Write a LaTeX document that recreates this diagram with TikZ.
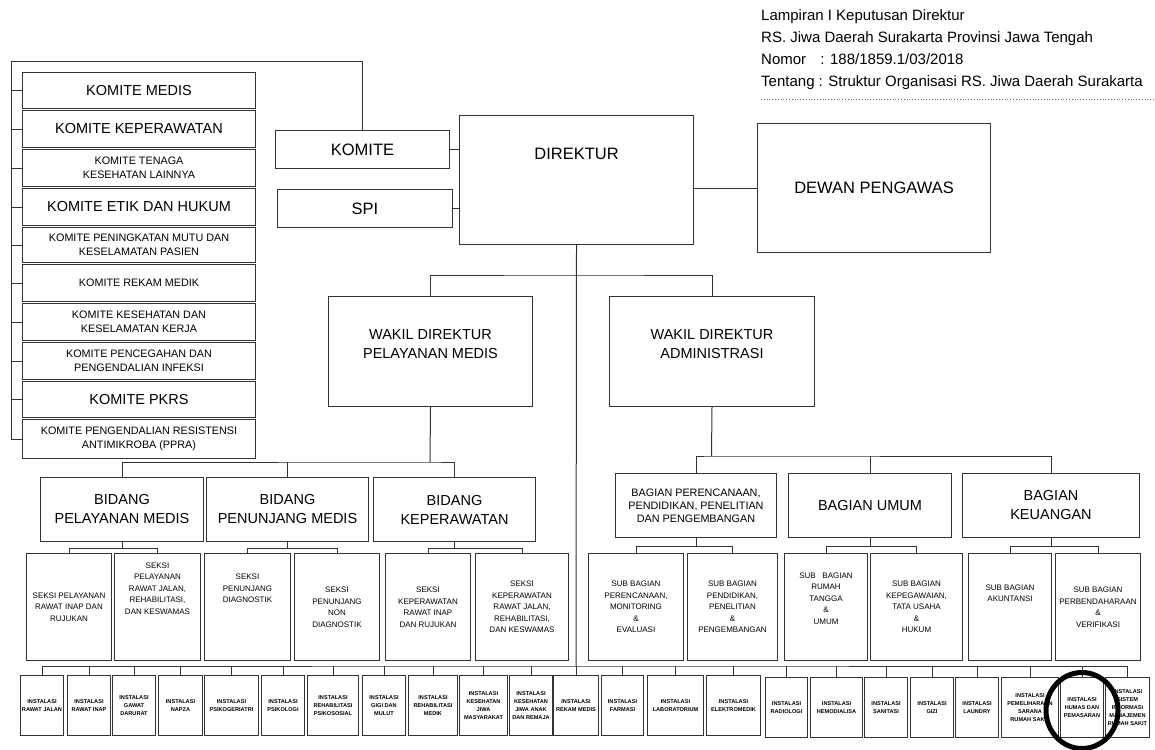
\documentclass[tikz,border=0pt]{standalone}
\usepackage{fontspec}
\setmainfont{Liberation Sans}

\begin{document}
\begin{tikzpicture}[
    x=1pt, y=-1pt,
    box/.style={rectangle, draw=black!80, line width=1pt, anchor=north west, align=center, inner sep=1pt},
    komitebig/.style={box, minimum width=233, font=\fontsize{14.5}{17}\selectfont},
    komitesmall/.style={box, minimum width=233, font=\fontsize{10.8}{14}\selectfont},
    headbox/.style={box, font=\fontsize{16.5}{20}\selectfont},
    unitbox/.style={box, minimum height=64, font=\fontsize{14.5}{19}\selectfont},
    seksibox/.style={box, minimum height=107, font=\fontsize{8}{11.5}\selectfont},
    instbox/.style={box, minimum height=60, inner sep=0.5pt, font=\fontsize{5.6}{8}\selectfont\bfseries},
    link/.style={draw=black!80, line width=1pt}
]

\useasboundingbox (0,0) rectangle (1155,749);

% Header text (top right)
\node[anchor=north west, align=left, inner sep=0pt, font=\fontsize{15}{22}\selectfont] (lampiran) at (761,9) {
    Lampiran I Keputusan Direktur\\
    RS. Jiwa Daerah Surakarta Provinsi Jawa Tengah\\
    \makebox[3.67em][l]{Nomor} : 188/1859.1/03/2018\\
    Tentang : Struktur Organisasi RS. Jiwa Daerah Surakarta
};
\draw[dotted, black!55, line width=0.8pt] ([yshift=-10pt]lampiran.south west) -- ++(394,0);

% Komite list (left column)
\node[komitebig, minimum height=36] (kmedis) at (22,72) {KOMITE MEDIS};
\node[komitebig, minimum height=37] (kkep) at (22,110) {KOMITE KEPERAWATAN};
\node[komitesmall, minimum height=37] (ktenaga) at (22,149) {KOMITE TENAGA\\KESEHATAN LAINNYA};
\node[komitebig, minimum height=37] (ketik) at (22,188) {KOMITE ETIK DAN HUKUM};
\node[komitesmall, minimum height=35] (kmutu) at (22,227) {KOMITE PENINGKATAN MUTU DAN\\KESELAMATAN PASIEN};
\node[komitesmall, minimum height=37] (krekam) at (22,264) {KOMITE REKAM MEDIK};
\node[komitesmall, minimum height=37] (kk3) at (22,303) {KOMITE KESEHATAN DAN\\KESELAMATAN KERJA};
\node[komitesmall, minimum height=37] (kppi) at (22,342) {KOMITE PENCEGAHAN DAN\\PENGENDALIAN INFEKSI};
\node[komitebig, minimum height=36] (kpkrs) at (22,381) {KOMITE PKRS};
\node[komitesmall, minimum height=39] (kppra) at (22,419) {KOMITE PENGENDALIAN RESISTENSI\\ANTIMIKROBA (PPRA)};

% Direktur level
\node[headbox, minimum width=174, minimum height=38] (komite) at (275,130) {KOMITE};
\node[headbox, minimum width=175, minimum height=38] (spi) at (277,189) {SPI};
\node[headbox, minimum width=234, minimum height=129] (direktur) at (459,115) {DIREKTUR\\[32pt]\mbox{}};
\node[headbox, minimum width=233, minimum height=129] (dewan) at (757,123) {DEWAN PENGAWAS};

% Wakil direktur
\node[unitbox, minimum width=204, minimum height=110] (wpm) at (328,296) {WAKIL DIREKTUR\\PELAYANAN MEDIS\\[-5pt]\mbox{}};
\node[unitbox, minimum width=205, minimum height=110] (wadm) at (609,296) {WAKIL DIREKTUR\\ADMINISTRASI\\[-5pt]\mbox{}};

% Bidang (left) and Bagian (right)
\node[unitbox, minimum width=163] (bpm) at (40,477) {BIDANG\\PELAYANAN MEDIS};
\node[unitbox, minimum width=162] (bpen) at (206,477) {BIDANG\\PENUNJANG MEDIS};
\node[unitbox, minimum width=162] (bkep) at (373,477) {BIDANG\\KEPERAWATAN};
\node[unitbox, minimum width=161, font=\fontsize{10.8}{13}\selectfont] (bper) at (615,473) {BAGIAN PERENCANAAN,\\PENDIDIKAN, PENELITIAN\\DAN PENGEMBANGAN};
\node[unitbox, minimum width=163] (bumum) at (788,473) {BAGIAN UMUM};
\node[unitbox, minimum width=177] (bkeu) at (962,473) {BAGIAN\\KEUANGAN};

% Seksi
\node[seksibox, minimum width=85] (s1) at (26,553) {SEKSI PELAYANAN\\RAWAT INAP DAN\\RUJUKAN};
\node[seksibox, minimum width=86] (s2) at (114,553) {SEKSI\\PELAYANAN\\RAWAT JALAN,\\REHABILITASI,\\DAN KESWAMAS\\[26pt]\mbox{}};
\node[seksibox, minimum width=86] (s3) at (204,553) {SEKSI\\PENUNJANG\\DIAGNOSTIK\\[26pt]\mbox{}};
\node[seksibox, minimum width=85] (s4) at (294,553) {SEKSI\\PENUNJANG\\NON\\DIAGNOSTIK};
\node[seksibox, minimum width=85] (s5) at (385,553) {SEKSI\\KEPERAWATAN\\RAWAT INAP\\DAN RUJUKAN};
\node[seksibox, minimum width=93] (s6) at (475,553) {SEKSI\\KEPERAWATAN\\RAWAT JALAN,\\REHABILITASI,\\DAN KESWAMAS};

% Sub bagian
\node[seksibox, minimum width=95] (sb1) at (588,553) {SUB BAGIAN\\PERENCANAAN,\\MONITORING\\\&\\EVALUASI};
\node[seksibox, minimum width=90] (sb2) at (687,553) {SUB BAGIAN\\PENDIDIKAN,\\PENELITIAN\\\&\\PENGEMBANGAN};
\node[seksibox, minimum width=83] (sb3) at (784,553) {SUB\ \ \ BAGIAN\\RUMAH\\TANGGA\\\&\\UMUM\\[6pt]\mbox{}};
\node[seksibox, minimum width=92] (sb4) at (870,553) {SUB BAGIAN\\KEPEGAWAIAN,\\TATA USAHA\\\&\\HUKUM};
\node[seksibox, minimum width=83] (sb5) at (968,553) {SUB BAGIAN\\AKUNTANSI\\[16pt]\mbox{}};
\node[seksibox, minimum width=85] (sb6) at (1055,553) {SUB BAGIAN\\PERBENDAHARAAN\\\&\\VERIFIKASI};

% Instalasi (bottom row)
\node[instbox, minimum width=43] (i1) at (20,675) {INSTALASI\\RAWAT JALAN};
\node[instbox, minimum width=43] (i2) at (67,675) {INSTALASI\\RAWAT INAP};
\node[instbox, minimum width=43] (i3) at (112,675) {INSTALASI\\GAWAT\\DARURAT};
\node[instbox, minimum width=44] (i4) at (158,675) {INSTALASI\\NAPZA};
\node[instbox, minimum width=54] (i5) at (204,675) {INSTALASI\\PSIKOGERIATRI};
\node[instbox, minimum width=43] (i6) at (261,675) {INSTALASI\\PSIKOLOGI};
\node[instbox, minimum width=51] (i7) at (307,675) {INSTALASI\\REHABILITASI\\PSIKOSOSIAL};
\node[instbox, minimum width=43] (i8) at (362,675) {INSTALASI\\GIGI DAN\\MULUT};
\node[instbox, minimum width=49] (i9) at (408,675) {INSTALASI\\REHABILITASI\\MEDIK};
\node[instbox, minimum width=48] (i10) at (459,675) {INSTALASI\\KESEHATAN\\JIWA\\MASYARAKAT};
\node[instbox, minimum width=43] (i11) at (509,675) {INSTALASI\\KESEHATAN\\JIWA ANAK\\DAN REMAJA};
\node[instbox, minimum width=45] (i12) at (553,675) {INSTALASI\\REKAM MEDIS};
\node[instbox, minimum width=42] (i13) at (601,675) {INSTALASI\\FARMASI};
\node[instbox, minimum width=56] (i14) at (647,675) {INSTALASI\\LABORATORIUM};
\node[instbox, minimum width=54] (i15) at (706,675) {INSTALASI\\ELEKTROMEDIK};
\node[instbox, minimum width=42] (i16) at (765,677) {INSTALASI\\RADIOLOGI};
\node[instbox, minimum width=52] (i17) at (810,677) {INSTALASI\\HEMODIALISA};
\node[instbox, minimum width=43] (i18) at (864,677) {INSTALASI\\SANITASI};
\node[instbox, minimum width=43] (i19) at (910,677) {INSTALASI\\GIZI};
\node[instbox, minimum width=43] (i20) at (955,677) {INSTALASI\\LAUNDRY};
\node[instbox, minimum width=57] (i21) at (1001,677) {INSTALASI\\PEMELIHARAAN\\SARANA\\RUMAH SAKIT};
\node[instbox, minimum width=43] (i22) at (1060,677) {INSTALASI\\HUMAS DAN\\PEMASARAN};
\node[instbox, minimum width=44] (i23) at (1105,677) {INSTALASI\\SISTEM\\INFORMASI\\MANAJEMEN\\RUMAH SAKIT};

% Bus points
\coordinate (kcorner) at (11,62);
\coordinate (wakilbus) at (576,275);
\coordinate (bidangbus) at (430,462);
\coordinate (bagianbus) at (711.5,456);
\coordinate (instbus) at (576,666);

% Connections: komite bracket
\draw[link] (komite.north) |- (kcorner) |- (kppra.west);
\foreach \k in {kmedis, kkep, ktenaga, ketik, kmutu, krekam, kk3, kppi, kpkrs}
    \draw[link] (kcorner |- \k.west) -- (\k.west);

% Connections: direktur
\draw[link] (komite.east) -- (komite.east -| direktur.west);
\draw[link] (spi.east) -- (spi.east -| direktur.west);
\draw[link] (dewan.west) -- (dewan.west -| direktur.east);
\draw[link] (direktur.south) -- (instbus);
\draw[link] (wpm.north) |- (wakilbus) -| (wadm.north);

% Connections: bidang / bagian
\draw[link] (wpm.south) -- (bidangbus);
\draw[link] (bpm.north) |- (bidangbus) -| (bkep.north);
\draw[link] (bpen.north) -- (bpen.north |- bidangbus);
\draw[link] (wadm.south) -- (bagianbus);
\draw[link] (bper.north) |- (bagianbus) -| (bkeu.north);
\draw[link] (bumum.north) -- (bumum.north |- bagianbus);

% Connections: seksi / sub bagian
\draw[link] (bpm.south) -- ++(0,6) -| (s1.north);
\draw[link] (bpm.south) ++(0,6) -| (s2.north);
\draw[link] (bpen.south) -- ++(0,6) -| (s3.north);
\draw[link] (bpen.south) ++(0,6) -| (s4.north);
\draw[link] (bkep.south) -- ++(0,6) -| (s5.north);
\draw[link] (bkep.south) ++(0,6) -| (s6.north);
\draw[link] (bper.south) -- ++(0,8) -| (sb1.north);
\draw[link] (bper.south) ++(0,8) -| (sb2.north);
\draw[link] (bumum.south) -- ++(0,8) -| (sb3.north);
\draw[link] (bumum.south) ++(0,8) -| (sb4.north);
\draw[link] (bkeu.south) -- ++(0,8) -| (sb5.north);
\draw[link] (bkeu.south) ++(0,8) -| (sb6.north);

% Connections: instalasi
\draw[link] (i1.north) |- (instbus) -| (i23.north);
\foreach \n in {2,...,22}
    \draw[link] (i\n.north) -- (i\n.north |- instbus);

% Marker round humas
\draw[line width=5pt] ([yshift=-3pt]i22.center) ellipse [x radius=36, y radius=38];

\end{tikzpicture}
\end{document}
